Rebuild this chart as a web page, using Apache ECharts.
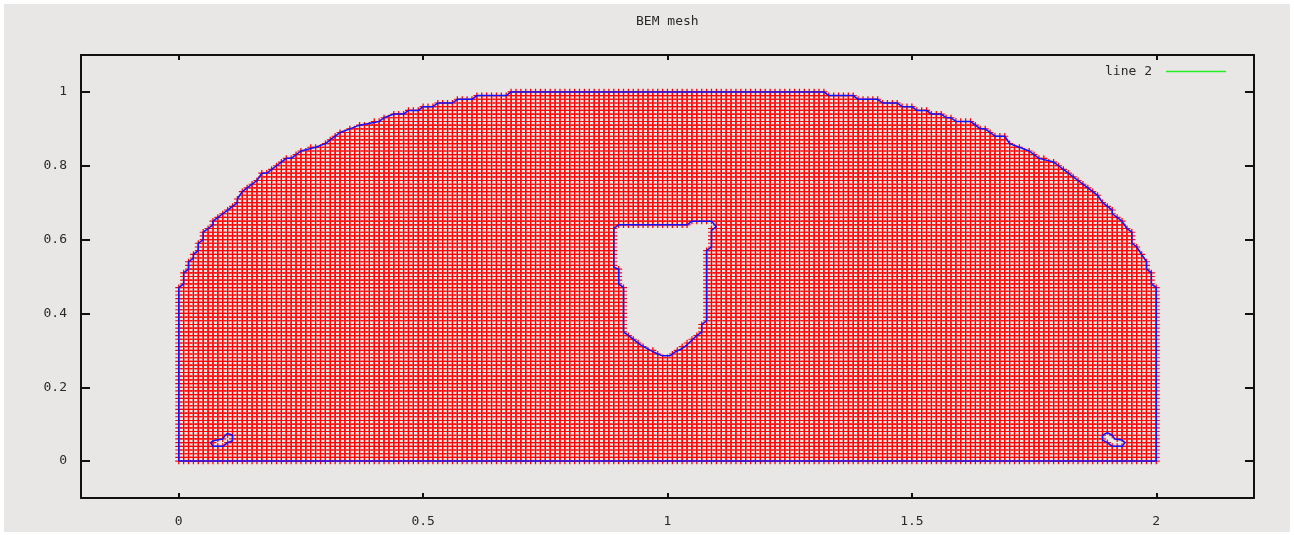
<!DOCTYPE html>
<html><head><meta charset="utf-8">
<script src="https://cdn.jsdelivr.net/npm/echarts@6/dist/echarts.min.js"></script>
<style>
html,body{margin:0;padding:0;background:#fff;width:1294px;height:535px;overflow:hidden}
#bg{position:absolute;left:4px;top:4px;width:1286px;height:528px;background:#e8e7e6}
#main{position:absolute;left:0;top:0;width:1294px;height:535px}
</style></head><body><div id="bg"></div><div id="main"></div>
<script>
const xTicks=[0,0.5,1,1.5,2];
const yTicks=[0,0.2,0.4,0.6,0.8,1];
const legendName='line 2';
const titleText='BEM mesh';
const meshStep=0.01;
const meshCols=201;
const meshRows=101;
// Outer boundary (x, y)
const outerBoundary=[[0,0],[0,0.47],[0.01,0.48],[0.01,0.51],[0.02,0.52],[0.02,0.54],[0.03,0.55],[0.03,0.56],[0.04,0.57],[0.04,0.59],[0.05,0.60],[0.05,0.62],[0.06,0.63],[0.07,0.64],[0.07,0.65],[0.09,0.67],[0.10,0.68],[0.11,0.69],[0.12,0.70],[0.12,0.71],[0.13,0.73],[0.14,0.74],[0.16,0.76],[0.17,0.78],[0.18,0.78],[0.20,0.80],[0.22,0.82],[0.23,0.82],[0.25,0.84],[0.28,0.85],[0.30,0.86],[0.31,0.87],[0.32,0.88],[0.33,0.89],[0.35,0.90],[0.37,0.91],[0.41,0.92],[0.42,0.93],[0.44,0.94],[0.46,0.94],[0.47,0.95],[0.49,0.95],[0.50,0.96],[0.52,0.96],[0.53,0.97],[0.56,0.97],[0.57,0.98],[0.60,0.98],[0.61,0.99],[0.67,0.99],[0.68,1],[1.32,1],[1.33,0.99],[1.38,0.99],[1.39,0.98],[1.43,0.98],[1.44,0.97],[1.47,0.97],[1.48,0.96],[1.50,0.96],[1.51,0.95],[1.53,0.95],[1.54,0.94],[1.56,0.94],[1.57,0.93],[1.58,0.93],[1.59,0.92],[1.62,0.92],[1.63,0.91],[1.64,0.90],[1.65,0.90],[1.66,0.89],[1.67,0.88],[1.69,0.88],[1.70,0.86],[1.72,0.85],[1.74,0.84],[1.76,0.82],[1.79,0.81],[1.80,0.80],[1.82,0.78],[1.84,0.76],[1.86,0.74],[1.88,0.72],[1.89,0.70],[1.90,0.69],[1.91,0.68],[1.91,0.67],[1.93,0.65],[1.94,0.63],[1.95,0.62],[1.95,0.59],[1.96,0.58],[1.97,0.56],[1.98,0.54],[1.98,0.52],[1.99,0.51],[1.99,0.48],[2,0.47],[2,0],[0,0]];
const centreHole=[[0.89,0.63],[0.90,0.64],[1.04,0.64],[1.05,0.65],[1.09,0.65],[1.10,0.635],[1.09,0.625],[1.09,0.58],[1.08,0.57],[1.08,0.38],[1.07,0.37],[1.07,0.35],[1.06,0.34],[1.04,0.315],[1.03,0.305],[1.015,0.295],[1.005,0.285],[0.99,0.285],[0.98,0.29],[0.965,0.30],[0.945,0.315],[0.925,0.335],[0.91,0.35],[0.91,0.47],[0.90,0.48],[0.90,0.52],[0.89,0.525],[0.89,0.63]];
const leftHole=[[0.065,0.05],[0.07,0.04],[0.09,0.04],[0.10,0.05],[0.11,0.055],[0.11,0.07],[0.10,0.075],[0.095,0.07],[0.09,0.06],[0.07,0.055],[0.065,0.05]];
const rightHole=[[1.89,0.07],[1.90,0.077],[1.91,0.07],[1.915,0.06],[1.93,0.057],[1.936,0.05],[1.93,0.04],[1.91,0.04],[1.90,0.05],[1.89,0.057],[1.89,0.07]];

function onEdge(px,py,poly,tol){
  for(let k=0;k<poly.length-1;k++){
    const [ax,ay]=poly[k],[bx,by]=poly[k+1];
    const dx=bx-ax,dy=by-ay,l=dx*dx+dy*dy||1e-9;
    const t=Math.max(0,Math.min(1,((px-ax)*dx+(py-ay)*dy)/l));
    if(Math.hypot(px-ax-t*dx,py-ay-t*dy)<tol) return true;
  }
  return false;
}
function inside(px,py,poly){
  let c=false;
  for(let k=0,m=poly.length-1;k<poly.length;m=k++){
    const [ax,ay]=poly[k],[bx,by]=poly[m];
    if((ay>py)!==(by>py)&&px<(bx-ax)*(py-ay)/(by-ay)+ax) c=!c;
  }
  return c;
}
const holes=[centreHole,leftHole,rightHole];
const meshNodes=[];
for(let i=0;i<meshCols;i++){
  for(let j=0;j<meshRows;j++){
    const x=i*meshStep,y=j*meshStep;
    if(!(inside(x,y,outerBoundary)||onEdge(x,y,outerBoundary,0.004))) continue;
    if(holes.some(h=>inside(x,y,h)&&!onEdge(x,y,h,0.004))) continue;
    meshNodes.push([x,y]);
  }
}
const blue=(name,d)=>({name,type:'line',data:d,showSymbol:false,symbol:'none',smooth:false,
  lineStyle:{color:'#1212ff',width:1.5},silent:true,animation:false,z:3,clip:false});
const font='"DejaVu Sans Mono","Liberation Mono",monospace';
const lbl={fontFamily:font,fontSize:13,color:'#2a2a2a'};
const axisLine={show:true,onZero:false,lineStyle:{color:'#111',width:2}};
const fmt=v=>String(v);
const chart=echarts.init(document.getElementById('main'),null,{renderer:'canvas'});
chart.setOption({
  animation:false,
  backgroundColor:'transparent',
  title:{text:titleText,left:631,top:10,textStyle:{fontFamily:font,fontSize:13,fontWeight:'normal',color:'#2a2a2a'}},
  legend:{data:[{name:legendName,icon:'rect'}],right:63,top:60,align:'right',itemWidth:60,itemHeight:1.5,
    textStyle:{fontFamily:font,fontSize:13,color:'#2a2a2a',padding:[0,9,0,0]},selectedMode:false},
  grid:{left:81,right:40,top:55,bottom:37,containLabel:false},
  xAxis:[
    {type:'value',position:'bottom',min:-0.2,max:2.2,splitLine:{show:false},axisLine,
     axisTick:{show:true,inside:true,length:5,customValues:xTicks,lineStyle:{color:'#111',width:2}},
     axisLabel:{customValues:xTicks,formatter:fmt,margin:17,...lbl}},
    {type:'value',position:'top',min:-0.2,max:2.2,splitLine:{show:false},axisLine,
     axisTick:{show:true,inside:true,length:5,customValues:xTicks,lineStyle:{color:'#111',width:2}},
     axisLabel:{show:false}}
  ],
  yAxis:[
    {type:'value',position:'left',min:-0.1,max:1.1,splitLine:{show:false},axisLine,
     axisTick:{show:true,inside:true,length:9,customValues:yTicks,lineStyle:{color:'#111',width:2}},
     axisLabel:{customValues:yTicks,formatter:fmt,margin:14,...lbl}},
    {type:'value',position:'right',min:-0.1,max:1.1,splitLine:{show:false},axisLine,
     axisTick:{show:true,inside:true,length:9,customValues:yTicks,lineStyle:{color:'#111',width:2}},
     axisLabel:{show:false}}
  ],
  series:[
    {name:'mesh',type:'scatter',data:meshNodes,symbol:'path://M0 2.45H6V3.55H0Z M2.45 0H3.55V6H2.45Z',symbolSize:[7,6.2],
     itemStyle:{color:'#ff0000',opacity:1},silent:true,animation:false,progressive:0,z:2,clip:false},
    blue('outer',outerBoundary),
    blue('centre hole',centreHole),
    blue('left hole',leftHole),
    blue('right hole',rightHole),
    {name:legendName,type:'line',data:[],itemStyle:{color:'#22ee22'},lineStyle:{color:'#22ee22',width:1}}
  ]
});
</script></body></html>
